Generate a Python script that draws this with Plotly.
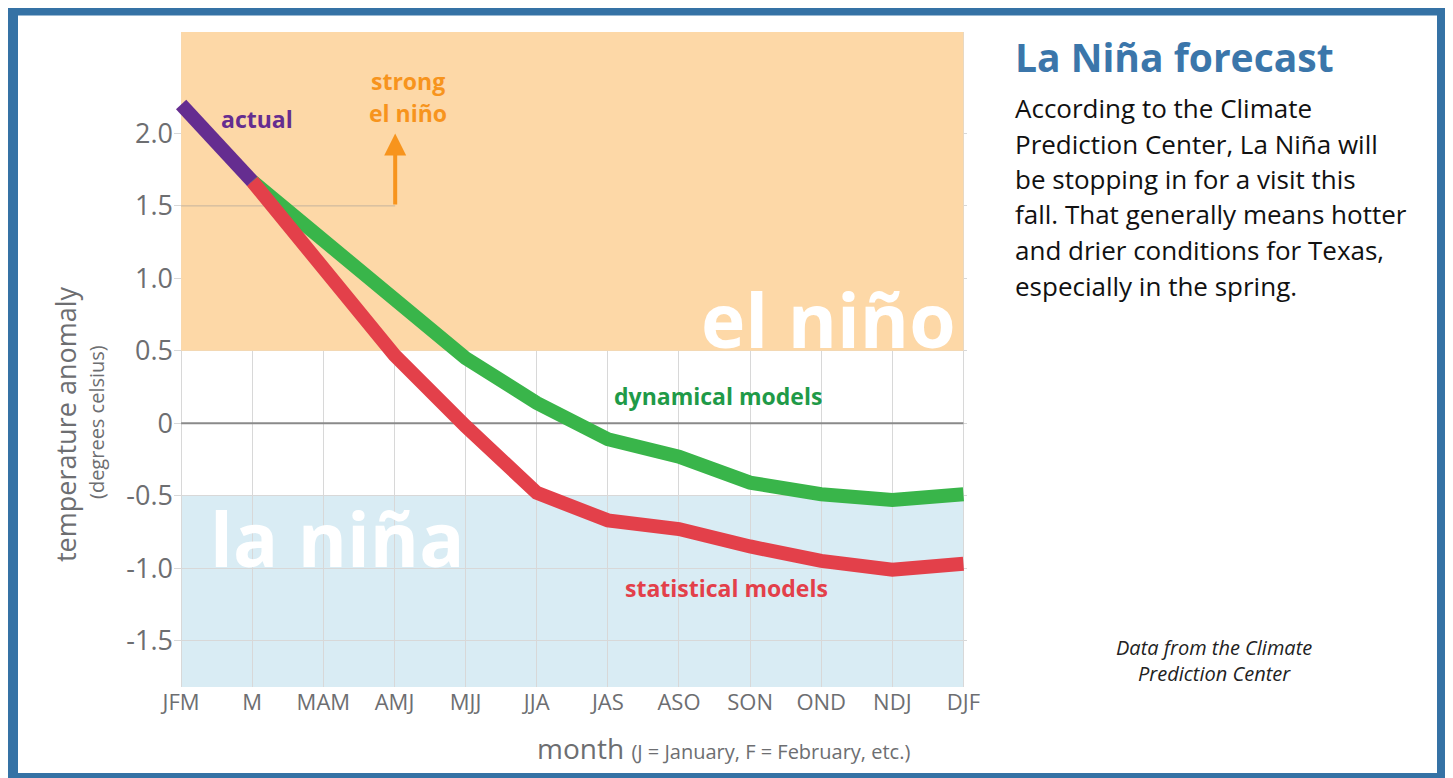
import plotly.graph_objects as go

# ---------------- data ----------------
categories = ["JFM", "M", "MAM", "AMJ", "MJJ", "JJA", "JAS", "ASO", "SON", "OND", "NDJ", "DJF"]
actual = [2.2, 1.67]                       # JFM, M
dynamical = [1.67, 1.26, 0.85, 0.45, 0.14, -0.11, -0.23, -0.41, -0.49, -0.53, -0.49]   # M .. DJF
statistical = [1.67, 1.08, 0.47, -0.02, -0.48, -0.67, -0.73, -0.85, -0.95, -1.01, -0.97]  # M .. DJF
y_tick_vals = [2.0, 1.5, 1.0, 0.5, 0.0, -0.5, -1.0, -1.5]
y_tick_text = ["2.0", "1.5", "1.0", "0.5", "0", "-0.5", "-1.0", "-1.5"]

x_idx = list(range(len(categories)))

# ---------------- layout helpers (reference pixel -> paper) ----------------
OFF = 8                      # page body margin
W, H = 1445, 770
PL, PR, PT, PB = 174, 967, 32, 687          # plot area in reference pixels
ML, MT = PL - OFF, PT - OFF
MR, MB = W - (PR - OFF), H - (PB - OFF)
PW, PH = PR - PL, PB - PT


def px(xr):
    return (xr - PL) / PW


def py(yr):
    return (PB - yr) / PH


FONT = "Open Sans, Noto Sans, sans-serif"
GRAY = "#6d6e71"
PURPLE = "#652d90"
GREEN = "#39b54a"
RED = "#e3404a"
ORANGE = "#f7941d"
FRAME = "#3572a5"

fig = go.Figure()

fig.add_trace(go.Scatter(x=x_idx[1:], y=dynamical, mode="lines",
                         line=dict(color=GREEN, width=14), hoverinfo="skip", showlegend=False))
fig.add_trace(go.Scatter(x=x_idx[1:], y=statistical, mode="lines",
                         line=dict(color=RED, width=14), hoverinfo="skip", showlegend=False))
fig.add_trace(go.Scatter(x=x_idx[:2], y=actual, mode="lines",
                         line=dict(color=PURPLE, width=14), hoverinfo="skip", showlegend=False))

shapes = [
    # la niña band
    dict(type="rect", xref="x", yref="y", x0=0, x1=11, y0=-1.82, y1=-0.5,
         fillcolor="#d9ecf4", line=dict(width=0), layer="below"),
    # el niño band
    dict(type="rect", xref="x", yref="y", x0=0, x1=11, y0=0.5, y1=2.7,
         fillcolor="#fdd8a7", line=dict(width=0), layer="between"),
    # strong el niño threshold line
    dict(type="line", xref="x", yref="y", x0=0, x1=3.01, y0=1.5, y1=1.5,
         line=dict(color="rgba(150,150,150,0.55)", width=1), layer="between"),
    # zero line
    dict(type="line", xref="x", yref="y", x0=0, x1=11, y0=0, y1=0,
         line=dict(color="#8a8a8a", width=2), layer="between"),
    # outer frame
    dict(type="rect", xref="paper", yref="paper", x0=px(13), x1=px(1442), y0=py(10.5), y1=py(778),
         line=dict(color=FRAME, width=10), fillcolor="rgba(0,0,0,0)", layer="above"),
]


def A(**kw):
    kw.setdefault("showarrow", False)
    kw.setdefault("xanchor", "center")
    kw.setdefault("yanchor", "middle")
    return kw


ann = []
# in-plot labels
ann.append(A(x=1.06, y=2.10, xref="x", yref="y", text="<b>actual</b>",
             font=dict(family=FONT, size=23, color=PURPLE)))
ann.append(A(x=3.19, y=2.365, xref="x", yref="y", text="<b>strong</b>",
             font=dict(family=FONT, size=23, color=ORANGE)))
ann.append(A(x=3.19, y=2.14, xref="x", yref="y", text="<b>el niño</b>",
             font=dict(family=FONT, size=23, color=ORANGE)))
ann.append(dict(x=3.01, y=2.0, ax=3.01, ay=1.5, xref="x", yref="y", axref="x", ayref="y",
                text="", showarrow=True, arrowhead=2, arrowsize=1.1, arrowwidth=4, arrowcolor=ORANGE))
ann.append(A(x=10.92, y=0.72, xref="x", yref="y", text="<b>el niño</b>", xanchor="right",
             font=dict(family=FONT, size=75, color="white")))
ann.append(A(x=2.19, y=-0.79, xref="x", yref="y", text="<b>la niña</b>",
             font=dict(family=FONT, size=75, color="white")))
ann.append(A(x=7.55, y=0.19, xref="x", yref="y", text="<b>dynamical models</b>",
             font=dict(family=FONT, size=23, color="#1f9a48")))
ann.append(A(x=7.67, y=-1.14, xref="x", yref="y", text="<b>statistical models</b>",
             font=dict(family=FONT, size=23, color=RED)))

# axis titles
ann.append(A(x=px(65), y=py(424), xref="paper", yref="paper", text="temperature anomaly",
             textangle=-90, font=dict(family=FONT, size=27, color=GRAY)))
ann.append(A(x=px(96), y=py(422), xref="paper", yref="paper", text="(degrees celsius)",
             textangle=-90, font=dict(family=FONT, size=20, color=GRAY)))
ann.append(A(x=px(723), y=py(748), xref="paper", yref="paper",
             text="month <span style='font-size:20px'>(J = January, F = February, etc.)</span>",
             font=dict(family=FONT, size=28, color=GRAY)))

# right-hand panel
ann.append(A(x=px(1013), y=py(56), xref="paper", yref="paper", text="<b>La Niña forecast</b>",
             xanchor="left", font=dict(family=FONT, size=39, color="#3b76aa")))
body_lines = ["According to the Climate", "Prediction Center, La Niña will",
              "be stopping in for a visit this", "fall. That generally means hotter",
              "and drier conditions for Texas,", "especially in the spring."]
for i, t in enumerate(body_lines):
    ann.append(A(x=px(1013), y=py(108 + 35.5 * i), xref="paper", yref="paper", text=t,
                 xanchor="left", font=dict(family=FONT, size=26, color="#111111")))
src_lines = ["Data from the Climate", "Prediction Center"]
for i, t in enumerate(src_lines):
    ann.append(A(x=px(1214), y=py(647 + 26 * i), xref="paper", yref="paper", text="<i>" + t + "</i>",
                 font=dict(family=FONT, size=20, color="#222222")))

fig.update_layout(
    width=W, height=H,
    margin=dict(l=ML, r=MR, t=MT, b=MB, pad=0),
    paper_bgcolor="white", plot_bgcolor="white",
    shapes=shapes, annotations=ann,
    showlegend=False,
    xaxis=dict(range=[-0.1, 11.05], tickvals=x_idx, ticktext=categories, showgrid=True,
               gridcolor="#d8d8d8", gridwidth=1, zeroline=False, showline=False, ticks="",
               tickfont=dict(family=FONT, size=22, color=GRAY), fixedrange=True),
    yaxis=dict(range=[-1.82, 2.7], tickvals=y_tick_vals, ticktext=y_tick_text, showgrid=True,
               gridcolor="#d8d8d8", gridwidth=1, zeroline=False, showline=False, ticks="",
               tickfont=dict(family=FONT, size=27, color=GRAY), fixedrange=True),
)

fig.write_html("out.html")
